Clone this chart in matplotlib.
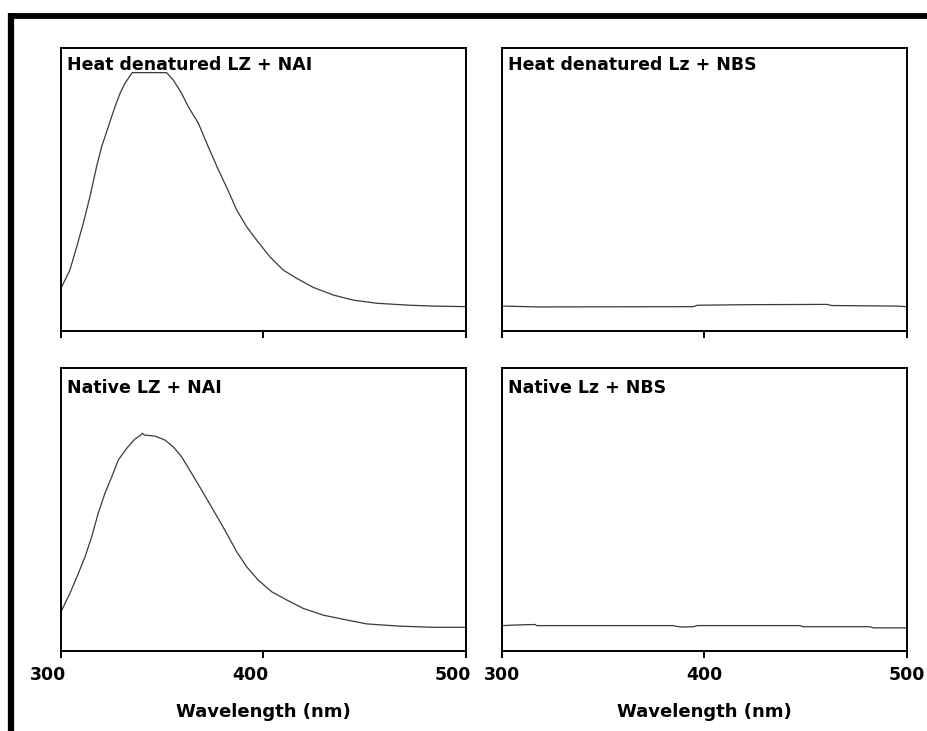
import numpy as np
import matplotlib.pyplot as plt
import matplotlib.transforms as mtransforms
from matplotlib.lines import Line2D

# emission spectra, wavelength (nm) vs. intensity (a.u.)
heat_nai_wl = [300, 304.4, 307.8, 311.0, 314.3, 317.6, 320.1, 323.4, 326.7, 329.2,
               331.6, 335.2, 352.2, 355.5, 359.6, 362.9, 367.9, 372.8, 377.7, 382.7,
               386.8, 391.8, 396.7, 403.3, 409.9, 416.5, 424.7, 434.6, 444.5, 456.0,
               472.5, 484.0, 500]
heat_nai_int = [15.0, 21.4, 29.7, 37.9, 47.3, 58.0, 65.0, 72.1, 79.2, 83.9,
                87.4, 91.2, 91.2, 88.6, 83.9, 79.2, 73.3, 65.0, 57.0, 49.4,
                42.7, 36.7, 32.0, 26.1, 21.4, 18.5, 15.3, 12.6, 10.8, 9.7,
                9.0, 8.7, 8.5]

native_nai_wl = [300, 304.4, 308.6, 311.9, 315.2, 318.4, 321.7, 325.1, 328.3, 332.5,
                 336.6, 339.5, 340.2, 341.2, 346.5, 351.4, 355.5, 359.6, 364.6, 369.5,
                 375.3, 381.0, 386.8, 391.8, 397.5, 404.1, 411.5, 419.7, 429.6, 441.2,
                 451.1, 467.5, 484.0, 500]
native_nai_int = [13.8, 20.3, 27.4, 33.3, 40.4, 48.7, 55.7, 61.6, 67.5, 71.7,
                  75.0, 76.4, 77.0, 76.4, 76.0, 74.6, 72.2, 68.7, 62.8, 56.9,
                  49.8, 42.7, 35.1, 29.7, 25.0, 20.9, 18.0, 15.0, 12.6, 10.9,
                  9.5, 8.7, 8.3, 8.3]

heat_nbs_wl = [300.5, 318.1, 394.6, 396.6, 421.8, 460.5, 463.0, 495.0, 500]
heat_nbs_int = [8.7, 8.4, 8.5, 9.0, 9.2, 9.3, 8.9, 8.7, 8.5]

native_nbs_wl = [300.5, 306.6, 316.4, 317.3, 384.7, 386.4, 389.7, 394.6, 396.6,
                 447.3, 448.9, 481.9, 483.5, 500]
native_nbs_int = [8.9, 9.1, 9.3, 8.9, 8.9, 8.6, 8.4, 8.5, 8.9,
                  8.9, 8.5, 8.5, 8.1, 8.1]

panels = [
    (heat_nai_wl, heat_nai_int, "Heat denatured LZ + NAI"),
    (heat_nbs_wl, heat_nbs_int, "Heat denatured Lz + NBS"),
    (native_nai_wl, native_nai_int, "Native LZ + NAI"),
    (native_nbs_wl, native_nbs_int, "Native Lz + NBS"),
]

plt.rcParams['font.family'] = 'DejaVu Sans'
plt.rcParams['font.weight'] = 'bold'

fig = plt.figure(figsize=(9.28, 7.31), dpi=100)

rects = [
    [0.0657, 0.5476, 0.4361, 0.3871],
    [0.5406, 0.5476, 0.4364, 0.3871],
    [0.0657, 0.1098, 0.4361, 0.3863],
    [0.5406, 0.1098, 0.4364, 0.3863],
]

for i, (rect, (wl, inten, name)) in enumerate(zip(rects, panels)):
    ax = fig.add_axes(rect)
    ax.plot(wl, inten, color='#3a3a3a', lw=0.9)
    ax.set_xlim(300, 500)
    ax.set_ylim(0, 100)
    ax.set_xticks([300, 400, 500])
    ax.set_yticks([])
    for s in ax.spines.values():
        s.set_linewidth(1.4)
    ax.tick_params(axis='x', direction='out', length=5, width=1.4,
                   labelsize=12.5, pad=6)
    ax.annotate(name, xy=(0, 1), xycoords='axes fraction',
                xytext=(6, -8 if i < 2 else -11), textcoords='offset pixels',
                ha='left', va='top', fontsize=12.5, fontweight='bold')
    if i < 2:
        ax.tick_params(labelbottom=False)
    else:
        ax.set_xlabel('Wavelength (nm)', fontsize=13, fontweight='bold',
                      labelpad=14)
        if i == 2:
            shift = mtransforms.ScaledTranslation(-13 / 100, 0, fig.dpi_scale_trans)
            for lab in ax.get_xticklabels():
                lab.set_transform(lab.get_transform() + shift)

# heavy outer frame
fig.add_artist(Line2D([8 / 928, 1.0], [1 - 15.5 / 731] * 2, color='black',
                      lw=4.2, transform=fig.transFigure, solid_capstyle='butt'))
fig.add_artist(Line2D([11.5 / 928] * 2, [0.0, 1 - 13 / 731], color='black',
                      lw=4.5, transform=fig.transFigure, solid_capstyle='butt'))

fig.savefig('out.png', dpi=100)
